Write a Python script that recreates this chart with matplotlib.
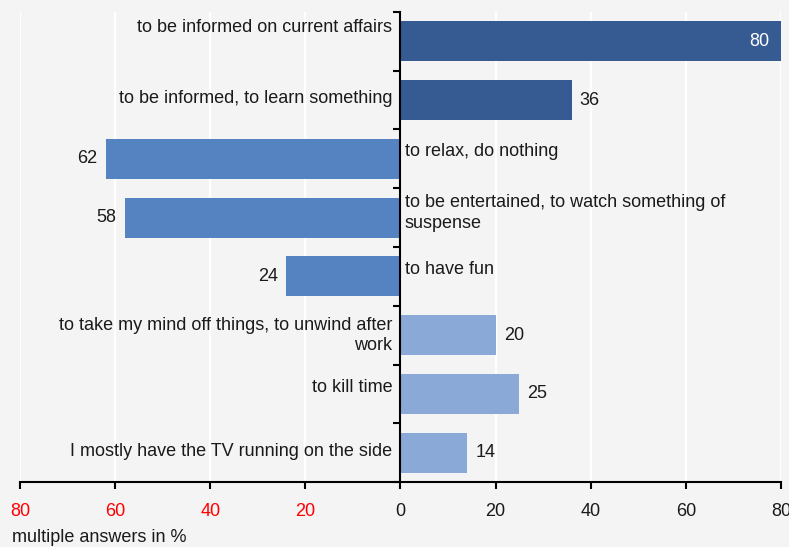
import matplotlib
matplotlib.use("Agg")
import matplotlib.pyplot as plt
import numpy as np

plt.rcParams['font.family'] = ['Liberation Sans', 'DejaVu Sans']

categories = [
    "to be informed on current affairs",
    "to be informed, to learn something",
    "to relax, do nothing",
    "to be entertained, to watch something of\nsuspense",
    "to have fun",
    "to take my mind off things, to unwind after\nwork",
    "to kill time",
    "I mostly have the TV running on the side",
]
values = [80, 36, 62, 58, 24, 20, 25, 14]
side = [1, 1, -1, -1, -1, 1, 1, 1]          # +1 drawn to the right, -1 to the left
groups = ["dark", "dark", "mid", "mid", "mid", "light", "light", "light"]
tick_values = [-80, -60, -40, -20, 0, 20, 40, 60, 80]
tick_labels = ["80", "60", "40", "20", "0", "20", "40", "60", "80"]

palette = {"dark": "#365b92", "mid": "#5582c1", "light": "#8aa9d6"}
label_shift = [-0.23, -0.02, -0.12, -0.08, -0.11, 0.0, -0.11, -0.02]

fig = plt.figure(figsize=(7.89, 5.47), dpi=100)
fig.patch.set_facecolor("#f4f4f4")
ax = fig.add_axes([0.0253, 0.1188, 0.9645, 0.8593])
ax.set_facecolor("#f4f4f4")

y = np.arange(len(categories))
signed = [v * s for v, s in zip(values, side)]
colors = [palette[g] for g in groups]

for x in tick_values:
    ax.axvline(x, color="white", lw=1.6, zorder=0)

ax.barh(y, signed, height=0.68, color=colors, zorder=2)

fs = 13
txt = "#1a1a1a"
for i, (v, s) in enumerate(zip(values, side)):
    if s > 0:
        ax.text(-1.7, y[i] + label_shift[i], categories[i], ha="right", va="center",
                fontsize=fs, color=txt, linespacing=1.25, zorder=3)
    else:
        ax.text(0.9, y[i] + label_shift[i], categories[i], ha="left", va="center",
                fontsize=fs, color=txt, linespacing=1.25, zorder=3)
    if v >= 80:
        ax.text(v * s - 2.5, y[i], str(v), ha="right", va="center",
                fontsize=fs, color="white", zorder=3)
    elif s > 0:
        ax.text(v + 1.7, y[i], str(v), ha="left", va="center",
                fontsize=fs, color=txt, zorder=3)
    else:
        ax.text(-v - 1.7, y[i], str(v), ha="right", va="center",
                fontsize=fs, color=txt, zorder=3)

ax.set_xlim(-80, 80)
ax.set_ylim(len(categories) - 0.5, -0.5)

ax.set_xticks(tick_values)
ax.set_xticklabels(tick_labels, fontsize=fs)
for lbl, t in zip(ax.get_xticklabels(), tick_values):
    lbl.set_color("red" if t < 0 else txt)
ax.tick_params(axis="x", direction="out", length=5, width=1.5, pad=10)

ax.set_yticks(np.arange(len(categories) + 1) - 0.5)
ax.set_yticklabels([])
ax.tick_params(axis="y", direction="out", length=5, width=1.5)

ax.spines["left"].set_position(("data", 0))
ax.spines["left"].set_linewidth(1.5)
ax.spines["bottom"].set_linewidth(1.5)
ax.spines["top"].set_visible(False)
ax.spines["right"].set_visible(False)

fig.text(12 / 789, 1 - 538 / 547, "multiple answers in %", ha="left", va="center",
         fontsize=fs, color=txt)

fig.savefig("out.png", dpi=100, facecolor=fig.get_facecolor())
